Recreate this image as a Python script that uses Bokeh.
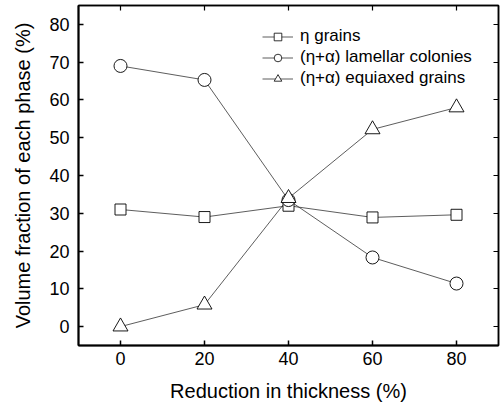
from bokeh.plotting import figure
from bokeh.models import LinearAxis, Legend, LegendItem, FixedTicker, Range1d
from bokeh.embed import file_html
from bokeh.resources import INLINE

reduction = [0, 20, 40, 60, 80]
eta_grains = [31.0, 29.0, 32.0, 28.9, 29.6]
lamellar = [69.0, 65.3, 33.5, 18.3, 11.4]
equiaxed = [0.0, 5.8, 34.0, 52.2, 58.0]
x_ticks = [0, 20, 40, 60, 80]
y_ticks = [0, 10, 20, 30, 40, 50, 60, 70, 80]
labels = ["\u03b7 grains", "(\u03b7+\u03b1) lamellar colonies", "(\u03b7+\u03b1) equiaxed grains"]

FONT = "Liberation Sans"
NAN = float("nan")

p = figure(width=501, height=408, output_backend="svg", toolbar_location=None,
           x_range=Range1d(-10, 90), y_range=Range1d(-5, 85),
           min_border_left=78, min_border_right=3, min_border_top=5, min_border_bottom=63)
p.xgrid.visible = False
p.ygrid.visible = False
p.outline_line_color = "black"
p.outline_line_width = 1.5
p.background_fill_color = "white"
p.border_fill_color = "white"

lc = "#333333"
# data
p.line(reduction, eta_grains, line_color=lc, line_width=0.8)
p.line(reduction, lamellar, line_color=lc, line_width=0.8)
p.line(reduction, equiaxed, line_color=lc, line_width=0.8)
p.scatter(reduction, eta_grains, marker="square", size=11, fill_color="white", line_color="black", line_width=0.9)
p.scatter(reduction, lamellar, marker="circle", size=13, fill_color="white", line_color="black", line_width=0.9)
p.scatter(reduction, equiaxed, marker="triangle", size=15, fill_color="white", line_color="black", line_width=0.9)

# legend proxies (small markers)
items = []
for lab, mk, sz in zip(labels, ["square", "circle", "triangle"], [7, 8, 9]):
    l = p.line([NAN], [NAN], line_color=lc, line_width=0.8)
    s = p.scatter([NAN], [NAN], marker=mk, size=sz, fill_color="white", line_color="black", line_width=0.8)
    items.append(LegendItem(label=lab, renderers=[l, s]))

leg = Legend(items=items, location=(184, 257), padding=0, margin=0, spacing=1,
             glyph_width=31, glyph_height=19, label_height=19, label_standoff=7,
             label_text_font=FONT, label_text_font_size="17px", label_text_color="black",
             border_line_alpha=0, background_fill_alpha=0)
p.add_layout(leg)

for ax in [p.xaxis[0], p.yaxis[0]]:
    ax.major_tick_in = 5
    ax.major_tick_out = 0
    ax.minor_tick_in = 0
    ax.minor_tick_out = 0
    ax.axis_line_width = 2
    ax.major_tick_line_width = 1.5
    ax.major_label_text_font = FONT
    ax.major_label_text_font_size = "18px"
    ax.major_label_text_color = "black"
    ax.axis_label_text_font = FONT
    ax.axis_label_text_font_size = "20px"
    ax.axis_label_text_font_style = "normal"
    ax.axis_label_text_color = "black"

p.xaxis[0].ticker = FixedTicker(ticks=x_ticks)
p.yaxis[0].ticker = FixedTicker(ticks=y_ticks)
p.xaxis[0].axis_label = "Reduction in thickness (%)"
p.yaxis[0].axis_label = "Volume fraction of each phase (%)"
p.xaxis[0].major_label_standoff = 6
p.xaxis[0].axis_label_standoff = 12
p.yaxis[0].major_label_standoff = 9
p.yaxis[0].axis_label_standoff = 12

for side, tks in [("above", x_ticks), ("right", y_ticks)]:
    ax = LinearAxis(ticker=FixedTicker(ticks=tks), major_tick_in=5, major_tick_out=0,
                    minor_tick_in=0, minor_tick_out=0,
                    major_label_overrides={t: "" for t in tks},
                    major_label_standoff=0, axis_line_width=1.5, major_tick_line_width=1.2)
    p.add_layout(ax, side)

open("out.html", "w").write(file_html(p, INLINE))
